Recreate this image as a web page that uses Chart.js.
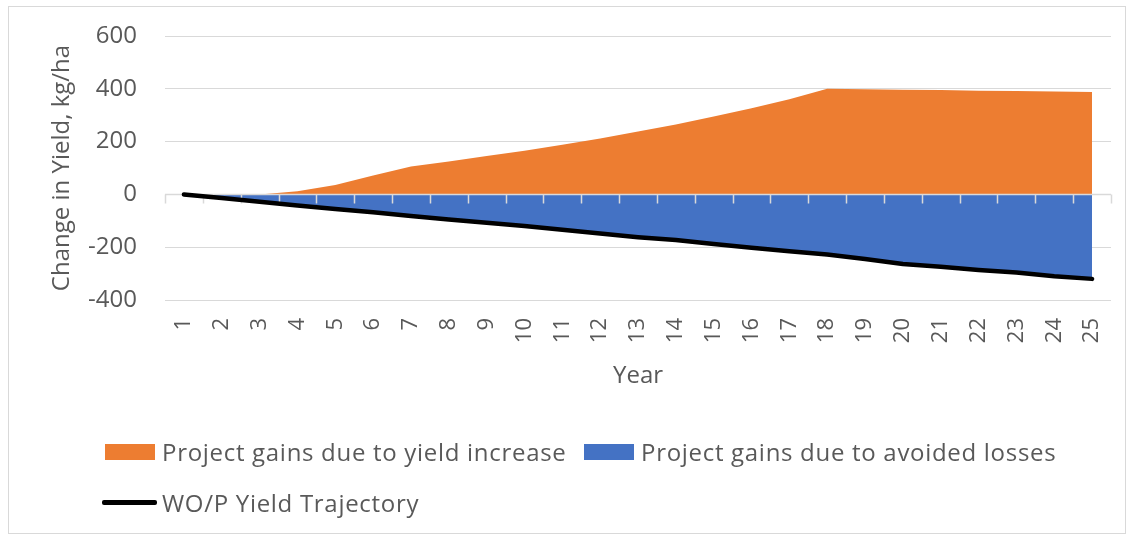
<!DOCTYPE html>
<html>
<head>
<meta charset="utf-8">
<script src="https://cdn.jsdelivr.net/npm/chart.js@4.4.1/dist/chart.umd.min.js"></script>
<style>
  html, body { margin: 0; padding: 0; background: #fff; }
  #wrap { position: relative; width: 1137px; height: 538px; overflow: hidden; }
  #frame { position: absolute; left: 8px; top: 6px; width: 1118px; height: 528px; border: 1px solid #d9d9d9; box-sizing: border-box; }
  canvas { position: absolute; left: 0; top: 0; }
  .lg { position: absolute; font-family: "Open Sans", sans-serif; font-size: 24px; color: #595959; white-space: nowrap; letter-spacing: 0.7px; display: flex; align-items: center; }
  .sw { display: inline-block; margin-right: 7px; }
</style>
</head>
<body>
<div id="wrap">
  <div id="frame"></div>
  <canvas id="c" width="1137" height="538"></canvas>
  <div id="legend"></div>
</div>
<script>
const years = ['1','2','3','4','5','6','7','8','9','10','11','12','13','14','15','16','17','18','19','20','21','22','23','24','25'];
const yieldIncrease = [0, 0, 0, 12, 36, 72, 106, 125, 145, 165, 188, 212, 238, 265, 295, 326, 360, 400, 398, 396, 395, 393, 392, 390, 388];
const avoidedLosses = [0, -14, -28, -42, -55, -68, -82, -95, -107, -120, -134, -148, -162, -173, -188, -202, -215, -228, -245, -264, -274, -286, -296, -310, -320];
const trajectory = [0, -14, -28, -42, -55, -68, -82, -95, -107, -120, -134, -148, -162, -173, -188, -202, -215, -228, -245, -264, -274, -286, -296, -310, -320];
const yTicks = [-400, -200, 0, 200, 400, 600];
const seriesNames = ['Project gains due to yield increase', 'Project gains due to avoided losses', 'WO/P Yield Trajectory'];
const colors = ['#ED7D31', '#4472C4', '#000000'];

const FONT = '"Open Sans", sans-serif';
const GRAY = '#595959';
const GRID = '#d9d9d9';

const zeroAxis = {
  id: 'zeroAxis',
  beforeDatasetDraw(chart, args) {
    if (args.index !== 2) return;
    const xs = chart.scales.x, ys = chart.scales.y, ctx = chart.ctx;
    const y0 = ys.getPixelForValue(0);
    const half = (xs.getPixelForValue(1) - xs.getPixelForValue(0)) / 2;
    ctx.save();
    ctx.strokeStyle = GRID;
    ctx.lineWidth = 1.5;
    ctx.beginPath();
    ctx.moveTo(chart.chartArea.left, y0);
    ctx.lineTo(chart.chartArea.right, y0);
    for (let i = 0; i <= years.length; i++) {
      const xb = Math.round(xs.getPixelForValue(Math.min(i, years.length - 1)) + (i < years.length ? -half : half)) + 0.5;
      ctx.moveTo(xb, y0);
      ctx.lineTo(xb, y0 + 9);
    }
    ctx.stroke();
    ctx.restore();
  }
};

const chart = new Chart(document.getElementById('c'), {
  type: 'line',
  data: {
    labels: years,
    datasets: [
      { label: seriesNames[0], data: yieldIncrease, backgroundColor: colors[0], borderColor: colors[0], borderWidth: 0, fill: 'origin', pointRadius: 0, order: 3 },
      { label: seriesNames[1], data: avoidedLosses, backgroundColor: colors[1], borderColor: colors[1], borderWidth: 0, fill: 'origin', pointRadius: 0, order: 2 },
      { label: seriesNames[2], data: trajectory, borderColor: colors[2], backgroundColor: colors[2], borderWidth: 4.5, fill: false, pointRadius: 0, borderCapStyle: 'round', borderJoinStyle: 'round', order: 1 }
    ]
  },
  options: {
    responsive: false,
    animation: false,
    devicePixelRatio: 1,
    layout: { padding: { left: 44, right: 25, top: 36, bottom: 143.6 } },
    plugins: { legend: { display: false }, tooltip: { enabled: false } },
    scales: {
      x: {
        type: 'category',
        offset: true,
        grid: { display: false, drawTicks: false },
        border: { display: false },
        ticks: { autoSkip: false, maxRotation: 90, minRotation: 90, padding: 18, color: GRAY, font: { family: FONT, size: 22 } },
        title: { display: true, text: 'Year', color: GRAY, font: { family: FONT, size: 24 } },
        afterFit(s) { s.height = 94.4; }
      },
      y: {
        min: -400, max: 600,
        afterBuildTicks(s) { s.ticks = yTicks.map(v => ({ value: v })); },
        grid: { color: GRID, lineWidth: 1, drawTicks: false },
        border: { display: false },
        ticks: { padding: 28, color: GRAY, font: { family: FONT, size: 24 } },
        title: { display: true, text: 'Change in Yield, kg/ha', color: GRAY, font: { family: FONT, size: 24 } },
        afterFit(s) { s.width = 121; s.paddingTop = 14; s.paddingBottom = 14; }
      }
    }
  },
  plugins: [zeroAxis]
});

// HTML legend built from dataset labels/colors
const lg = document.getElementById('legend');
const items = [
  { left: 105, top: 435, idx: 0, kind: 'box' },
  { left: 584, top: 435, idx: 1, kind: 'box' },
  { left: 102, top: 486, idx: 2, kind: 'line' }
];
items.forEach(it => {
  const ds = chart.data.datasets[it.idx];
  const d = document.createElement('div');
  d.className = 'lg';
  d.style.left = it.left + 'px';
  d.style.top = it.top + 'px';
  const sw = document.createElement('span');
  sw.className = 'sw';
  if (it.kind === 'box') {
    sw.style.width = '50px'; sw.style.height = '16px'; sw.style.background = ds.backgroundColor;
  } else {
    sw.style.width = '55px'; sw.style.height = '5px'; sw.style.background = ds.borderColor; sw.style.borderRadius = '2px'; sw.style.marginRight = '5px';
  }
  d.appendChild(sw);
  const t = document.createElement('span');
  t.textContent = ds.label;
  d.appendChild(t);
  lg.appendChild(d);
});
</script>
</body>
</html>
